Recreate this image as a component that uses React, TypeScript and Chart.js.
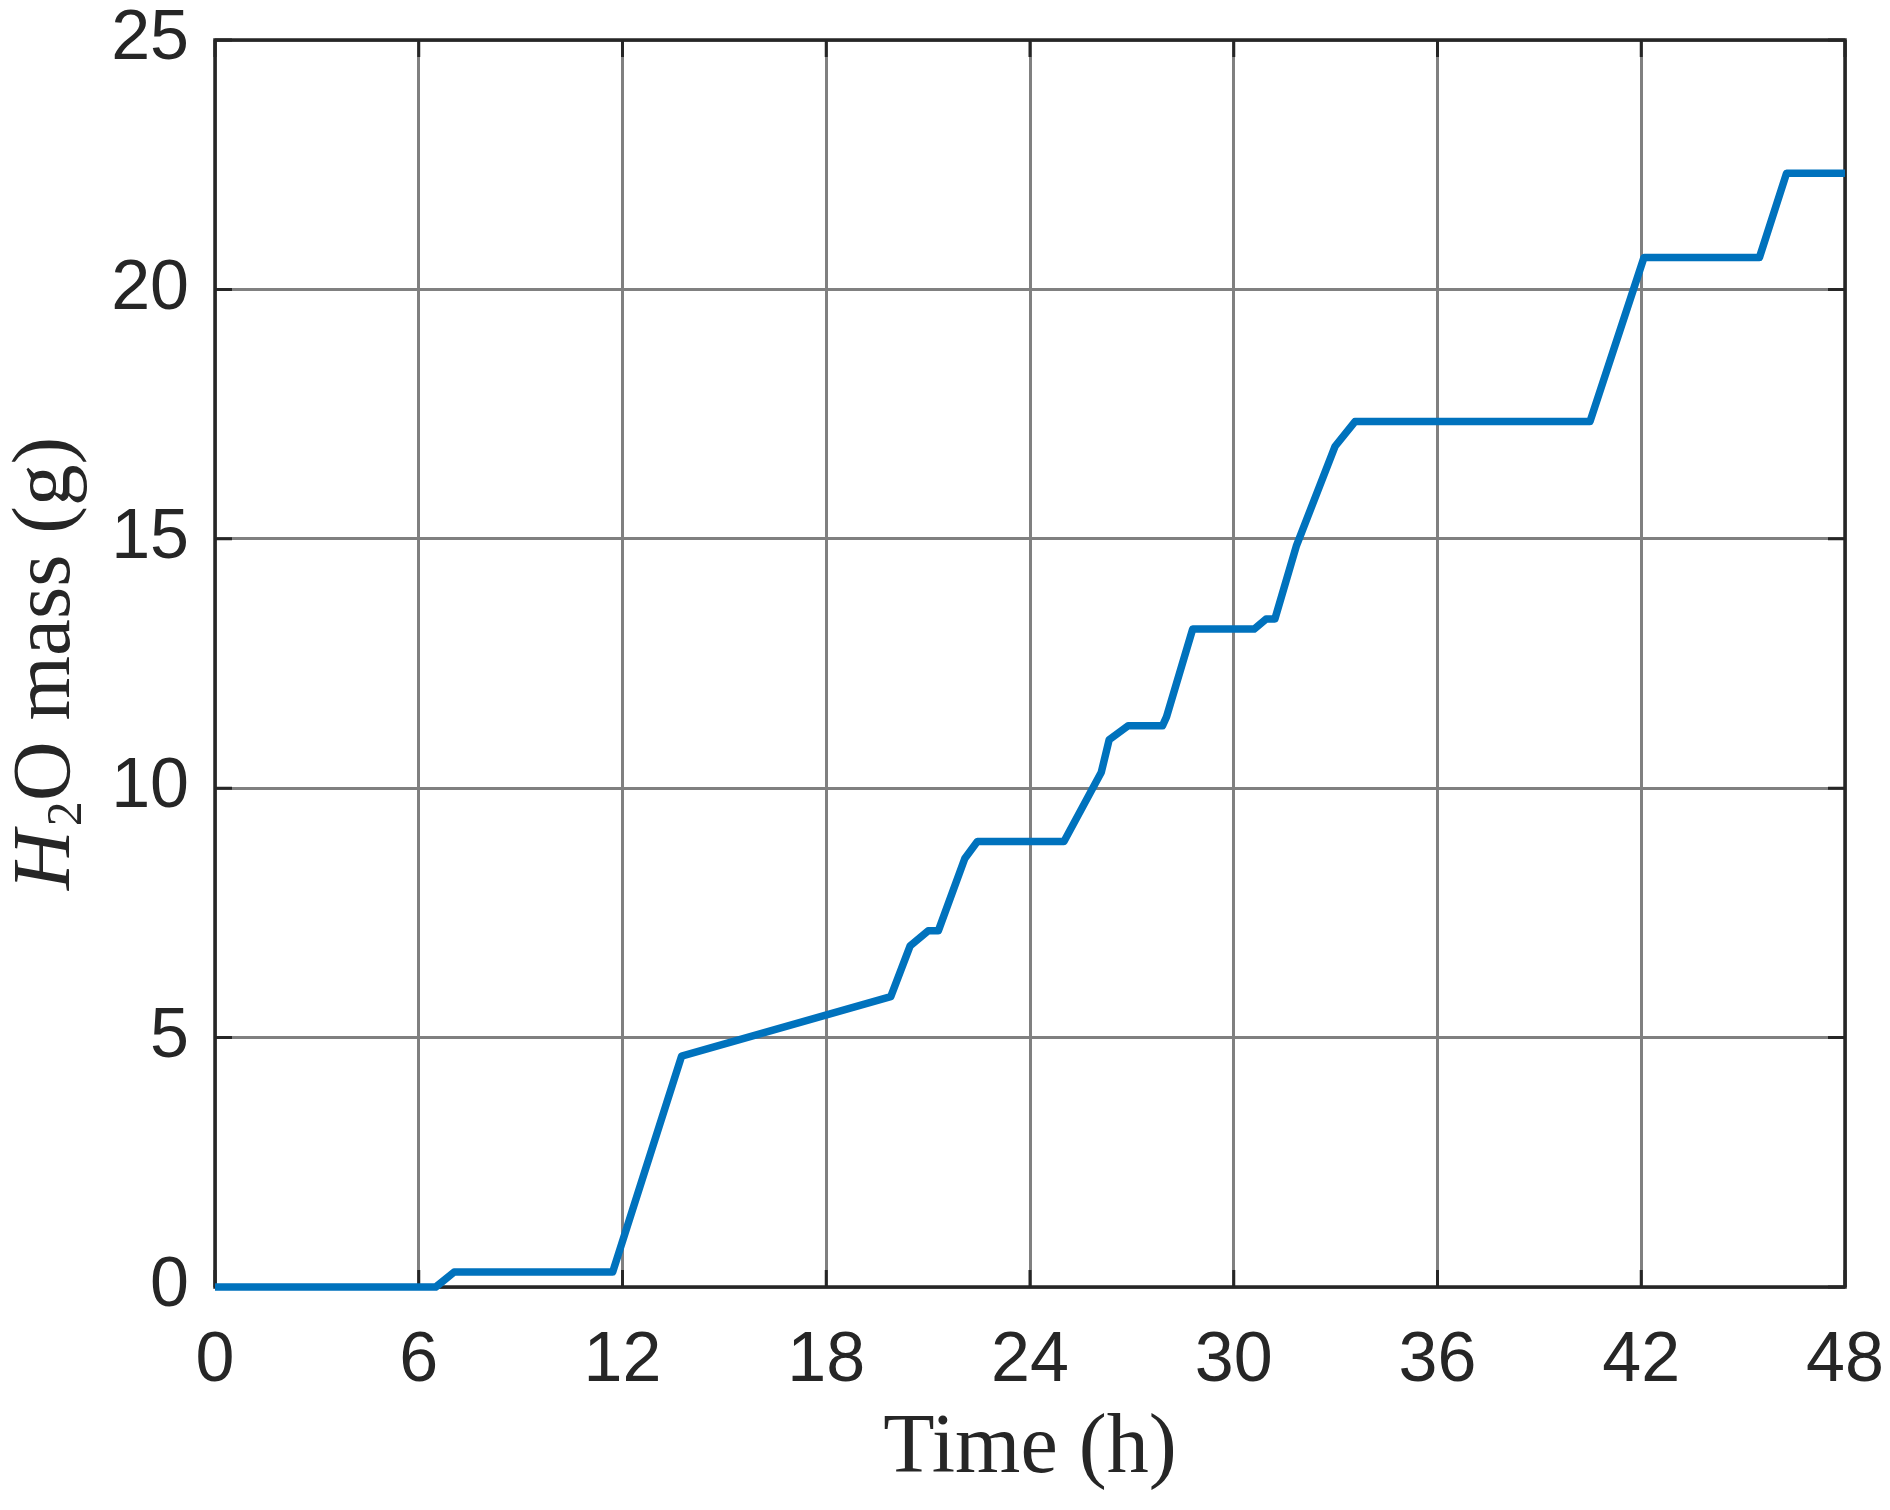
import React, { useEffect, useRef } from 'react';
import { Chart, registerables } from 'chart.js';

Chart.register(...registerables);

// Time (h)
const timeHours = [0, 6.5, 7.04, 11.71, 13.74, 19.9, 20.47, 21.0, 21.3, 22.08, 22.45, 25.0, 26.1, 26.33, 26.89, 27.9, 28.02, 28.79, 30.6, 30.95, 31.21, 31.85, 32.98, 33.57, 40.49, 42.08, 45.48, 46.28, 48];
// H2O mass (g)
const waterMass = [0, 0, 0.3, 0.3, 4.63, 5.82, 6.84, 7.14, 7.14, 8.59, 8.93, 8.93, 10.32, 10.97, 11.25, 11.25, 11.43, 13.19, 13.19, 13.39, 13.39, 14.87, 16.85, 17.35, 17.35, 20.64, 20.64, 22.33, 22.33];

const xTickValues = [0, 6, 12, 18, 24, 30, 36, 42, 48];
const yTickValues = [0, 5, 10, 15, 20, 25];

const xTitle = 'Time (h)';
const yTitleItalic = 'H';
const yTitleSub = '2';
const yTitleRest = 'O mass (g)';

const INK = '#262626';

const framePlugin = {
  id: 'matlabFrame',
  beforeDatasetsDraw(chart: any) {
    const { ctx, chartArea: a, scales } = chart;
    const tl = 17;
    ctx.save();
    ctx.strokeStyle = INK;
    ctx.lineWidth = 3;
    ctx.beginPath();
    xTickValues.forEach((v) => {
      const px = scales.x.getPixelForValue(v);
      ctx.moveTo(px, a.bottom);
      ctx.lineTo(px, a.bottom - tl);
      ctx.moveTo(px, a.top);
      ctx.lineTo(px, a.top + tl);
    });
    yTickValues.forEach((v) => {
      const py = scales.y.getPixelForValue(v);
      ctx.moveTo(a.left, py);
      ctx.lineTo(a.left + tl, py);
      ctx.moveTo(a.right, py);
      ctx.lineTo(a.right - tl, py);
    });
    ctx.stroke();
    ctx.lineWidth = 3.5;
    ctx.strokeRect(a.left, a.top, a.right - a.left, a.bottom - a.top);
    ctx.restore();
  },
  afterDraw(chart: any) {
    const { ctx, chartArea: a } = chart;
    ctx.save();
    ctx.fillStyle = INK;
    // x title
    ctx.font = '84px "Liberation Serif"';
    ctx.textAlign = 'center';
    ctx.textBaseline = 'alphabetic';
    ctx.fillText(xTitle, (a.left + a.right) / 2, 1472);

    // y title (rotated)
    const cx = 69;
    const cy = (a.top + a.bottom) / 2;
    ctx.translate(cx, cy);
    ctx.rotate(-Math.PI / 2);
    ctx.textAlign = 'left';
    const fMain = '83px "Liberation Serif"';
    const fItal = 'italic 83px "Liberation Serif"';
    const fSub = '50px "Liberation Serif"';
    ctx.font = fItal;
    const wH = ctx.measureText(yTitleItalic).width;
    ctx.font = fSub;
    const w2 = ctx.measureText(yTitleSub).width;
    ctx.font = fMain;
    const wRest = ctx.measureText(yTitleRest).width;
    const gap = 4;
    const total = wH + gap + w2 + wRest;
    let x0 = -total / 2;
    ctx.font = fItal;
    ctx.fillText(yTitleItalic, x0, 0);
    x0 += wH + gap;
    ctx.font = fSub;
    ctx.fillText(yTitleSub, x0, 12);
    x0 += w2;
    ctx.font = fMain;
    ctx.fillText(yTitleRest, x0, 0);
    ctx.restore();
  },
};

export default function App() {
  const canvasRef = useRef<HTMLCanvasElement | null>(null);

  useEffect(() => {
    const canvas = canvasRef.current;
    if (!canvas) return;
    const points = timeHours.map((t, i) => ({ x: t, y: waterMass[i] }));
    const zeroPad = (s: any) => {
      s.paddingTop = 0;
      s.paddingBottom = 0;
      s.paddingLeft = 0;
      s.paddingRight = 0;
    };
    const chart = new Chart(canvas, {
      type: 'line',
      data: {
        datasets: [
          {
            data: points,
            borderColor: '#0072BD',
            backgroundColor: '#0072BD',
            borderWidth: 7.5,
            pointRadius: 0,
            tension: 0,
            fill: false,
            clip: false as any,
            borderJoinStyle: 'round',
            borderCapStyle: 'butt',
          },
        ],
      },
      options: {
        animation: false,
        responsive: false,
        devicePixelRatio: 1,
        events: [],
        layout: { padding: { top: 40, right: 45, left: 0, bottom: 0 } },
        plugins: {
          legend: { display: false },
          tooltip: { enabled: false },
          title: { display: false },
        },
        scales: {
          x: {
            type: 'linear',
            min: 0,
            max: 48,
            afterFit: (s: any) => {
              s.height = 223;
              zeroPad(s);
            },
            afterBuildTicks: (s: any) => {
              s.ticks = xTickValues.map((v) => ({ value: v }));
            },
            ticks: {
              autoSkip: false,
              maxRotation: 0,
              padding: 33,
              color: INK,
              font: { family: '"Liberation Sans", Arial, sans-serif', size: 70 },
              callback: (v: any) => String(v),
            },
            grid: { color: '#808080', lineWidth: 3, drawTicks: false },
            border: { display: false },
          },
          y: {
            type: 'linear',
            min: 0,
            max: 25,
            afterFit: (s: any) => {
              s.width = 215;
              zeroPad(s);
            },
            afterBuildTicks: (s: any) => {
              s.ticks = yTickValues.map((v) => ({ value: v }));
            },
            ticks: {
              autoSkip: false,
              padding: 26,
              color: INK,
              font: { family: '"Liberation Sans", Arial, sans-serif', size: 70 },
              callback: (v: any) => String(v),
            },
            grid: { color: '#808080', lineWidth: 3, drawTicks: false },
            border: { display: false },
          },
        },
      },
      plugins: [framePlugin],
    });
    return () => chart.destroy();
  }, []);

  return (
    <div style={{ position: 'absolute', left: 0, top: 0, width: 1890, height: 1510, background: '#fff' }}>
      <canvas ref={canvasRef} width={1890} height={1510} style={{ display: 'block', width: 1890, height: 1510 }} />
    </div>
  );
}
